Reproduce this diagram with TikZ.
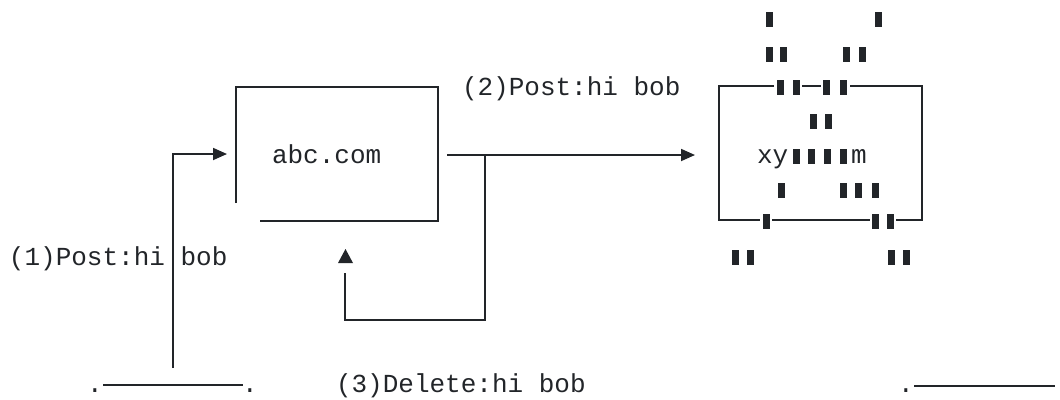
\documentclass[tikz,border=0pt]{standalone}
\usepackage{fontspec}
\setmonofont{Liberation Mono}
\usetikzlibrary{arrows.meta}
\definecolor{ink}{RGB}{34,37,41}

\begin{document}
\begin{tikzpicture}[x=1pt,y=-1pt,font=\ttfamily\fontsize{26}{30}\selectfont]
\tikzstyle{wire}=[draw=ink,line width=1.8pt]
\tikzstyle{flow}=[wire,-{Triangle[length=14pt,width=12pt]}]
\tikzstyle{msg}=[text=ink,inner sep=0,outer sep=0,anchor=base west]
\tikzstyle{tofu}=[fill=ink,inner sep=0,minimum width=7pt,minimum height=15pt]

\useasboundingbox (0,0) rectangle (1060,399);

% the site box
\node(site)[msg] at (272,163) {abc.com};
\coordinate(sa) at (236,203);
\coordinate(sb) at (236,87);
\coordinate(sc) at (438,87);
\coordinate(sd) at (438,221);
\coordinate(se) at (260,221);
\draw[wire] (sa) -- (sb) -- (sc) -- (sd) -- (se);

% (1) request into the site
\node(req1)[msg] at (9,265) {(1)Post:hi bob};
\coordinate(p1) at (173,368);
\coordinate(p1a) at (173,154);
\coordinate(p1b) at (227,154);
\draw[flow] (p1) -- (p1a) -- (p1b);

% (2) request out of the site
\node(req2)[msg] at (462,95) {(2)Post:hi bob};
\coordinate(p2) at (447,155);
\coordinate(p2b) at (695,155);
\draw[flow] (p2) -- (p2b);

% (3) loop back under the site
\coordinate(p3) at (485,155);
\coordinate(p3a) at (485,320);
\coordinate(p3b) at (345,320);
\coordinate(p3c) at (345,273);
\draw[wire] (p3) -- (p3a) -- (p3b) -- (p3c);
\fill[ink] (338,263) -- (353,263) -- (345.5,249) -- cycle;
\node(req3)[msg] at (336,392) {(3)Delete:hi bob};

% ground lines
\node(gl1)[msg,anchor=base] at (95,392) {.};
\node(gl2)[msg,anchor=base] at (250,392) {.};
\draw[wire] (103,385) -- (243,385);
\node(gr1)[msg,anchor=base] at (906,392) {.};
\draw[wire] (914,386) -- (1055,386);

% the other box
\coordinate(ta) at (719,86);
\coordinate(tb) at (922,86);
\coordinate(tc) at (922,220);
\coordinate(td) at (719,220);
\draw[wire] (774,86) -- (ta) -- (td) -- (760,220);
\draw[wire] (802,86) -- (821,86);
\draw[wire] (850,86) -- (tb) -- (tc) -- (896,220);
\draw[wire] (772,220) -- (870,220);
\node(xy)[msg] at (757,163) {xy};
\node(m)[msg] at (851,163) {m};

% unreadable glyphs
\foreach \x in {769,878} \node[tofu] at (\x,19) {};
\foreach \x in {769,783,846,862} \node[tofu] at (\x,54) {};
\foreach \x in {780,796,826,843} \node[tofu] at (\x,87) {};
\foreach \x in {813,828} \node[tofu] at (\x,121) {};
\foreach \x in {796,811,827,843} \node[tofu] at (\x,156) {};
\foreach \x in {781,843,858,875} \node[tofu] at (\x,190) {};
\foreach \x in {766,875,890} \node[tofu] at (\x,221) {};
\foreach \x in {735,750,891,906} \node[tofu] at (\x,257) {};

\end{tikzpicture}
\end{document}
